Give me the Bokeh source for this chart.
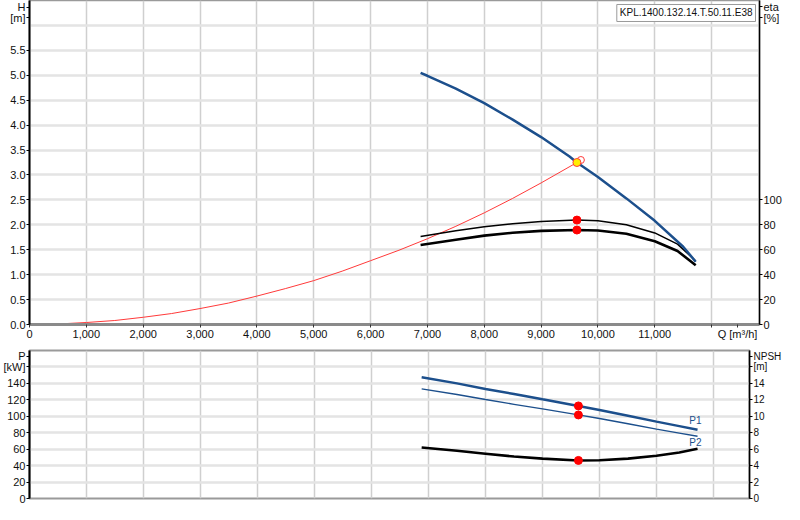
from bokeh.plotting import figure
from bokeh.models import LinearAxis, Range1d, FixedTicker, NumeralTickFormatter, Label
from bokeh.layouts import column
from bokeh.embed import file_html
from bokeh.resources import INLINE

# ---------------- data ----------------
q_head = [6880, 7000, 7500, 8000, 8500, 9000, 9500, 9630, 10000, 10500, 11000, 11500, 11720]
head = [5.05, 4.99, 4.73, 4.44, 4.11, 3.76, 3.37, 3.25, 2.96, 2.53, 2.08, 1.56, 1.26]

q_sys = [0, 500, 1000, 1500, 2000, 2500, 3000, 3500, 4000, 4500, 5000, 5500, 6000,
         6500, 7000, 7500, 8000, 8500, 9000, 9630]
h_sys = [0.0, 0.01, 0.04, 0.08, 0.145, 0.22, 0.32, 0.43, 0.57, 0.72, 0.88, 1.07, 1.28,
         1.49, 1.72, 1.97, 2.24, 2.53, 2.84, 3.25]

q_eta = [6880, 7500, 8000, 8500, 9000, 9630, 10000, 10500, 11000, 11400, 11720]
eta_thin = [70.6, 75.2, 78.5, 80.8, 82.6, 83.8, 83.2, 80.0, 73.5, 64.5, 51.0]
eta_thick = [63.8, 68.0, 71.3, 73.6, 75.1, 75.8, 75.4, 72.8, 66.8, 59.0, 47.5]

q_pow = [6880, 7500, 8000, 8500, 9000, 9630, 10000, 10500, 11000, 11400, 11720]
p1_kw = [147.4, 140.0, 133.3, 127.0, 120.6, 112.6, 107.6, 100.6, 93.5, 88.0, 83.5]
p2_kw = [133.3, 126.5, 120.4, 114.6, 108.9, 101.6, 97.3, 90.9, 84.4, 79.6, 75.7]
npsh = [6.2, 5.8, 5.45, 5.1, 4.85, 4.63, 4.65, 4.85, 5.2, 5.6, 6.04]

duty_q = [9630]
duty_h = [3.25]
duty_eta = [83.8, 75.8]
duty_p = [112.6, 101.6]
duty_npsh = [4.63]

# axis ticks and their texts
x_ticks = [0, 1000, 2000, 3000, 4000, 5000, 6000, 7000, 8000, 9000, 10000, 11000, 12000, 12456]
x_labels = {12000: "", 12456: "Q [m³/h]"}
x_grid = [0, 1000, 2000, 3000, 4000, 5000, 6000, 7000, 8000, 9000, 10000, 11000, 12000]
h_ticks = [0.0, 0.5, 1.0, 1.5, 2.0, 2.5, 3.0, 3.5, 4.0, 4.5, 5.0, 5.5, 6.15, 6.36]
h_labels = {6.15: "[m]", 6.36: "H"}
h_grid = [0.0, 0.5, 1.0, 1.5, 2.0, 2.5, 3.0, 3.5, 4.0, 4.5, 5.0, 5.5, 6.0]
eta_ticks = [0, 20, 40, 60, 80, 100, 246, 255]
eta_labels = {246: "[%]", 255: "eta"}
p_ticks = [0, 20, 40, 60, 80, 100, 120, 140, 160, 173]
p_labels = {160: "[kW]", 173: "P"}
p_grid = [0, 20, 40, 60, 80, 100, 120, 140, 160]
npsh_ticks = [0, 2, 4, 6, 8, 10, 12, 14, 16, 17.3]
npsh_labels = {16: "[m]", 17.3: "NPSH"}

model_name = "KPL.1400.132.14.T.50.11.E38"
curve_names = ["P1", "P2"]
curve_name_q = [11684, 11684]
curve_name_p = [94.4, 68.0]

# ---------------- style ----------------
FONT = "Liberation Sans"
FS = "11px"
BLUE = "#1c4f8c"
PX_PER_Q = 0.057           # pixels per m³/h, shared by both panels
XMAX_TOP = (761 - 29) / PX_PER_Q
XMAX_BOT = (749 - 29) / PX_PER_Q
HMAX = 6.5


def style_common(p):
    p.outline_line_color = "#9a9a9a"
    p.outline_line_width = 1.5
    p.background_fill_color = "white"
    p.border_fill_color = "white"
    p.xgrid.grid_line_color = "#cfcfcf"
    p.xgrid.grid_line_width = 1.5
    p.ygrid.grid_line_color = "#e4e4e4"
    p.ygrid.grid_line_width = 2.5


def style_axis(ax, width=2, fs=FS, tick=3):
    ax.axis_label = None
    ax.axis_label_standoff = 0
    ax.axis_line_color = "black"
    ax.axis_line_width = width
    ax.major_tick_line_color = "black"
    ax.major_tick_out = tick
    ax.major_tick_in = 0
    ax.minor_tick_out = 0
    ax.minor_tick_in = 0
    ax.minor_tick_line_color = None
    ax.major_label_text_font = FONT
    ax.major_label_text_font_size = fs
    ax.major_label_text_color = "#111111"
    ax.major_label_standoff = 1


# ---------------- top chart ----------------
p = figure(width=784, height=342, x_range=Range1d(0, XMAX_TOP), y_range=Range1d(0, HMAX),
           output_backend="svg", toolbar_location=None,
           min_border_left=29, min_border_right=23, min_border_top=0, min_border_bottom=17)
p.extra_y_ranges = {"eta": Range1d(0, HMAX * 40)}
style_common(p)
p.xgrid.ticker = FixedTicker(ticks=x_grid)
p.ygrid.ticker = FixedTicker(ticks=h_grid)

xa = p.xaxis[0]
style_axis(xa, width=3)
xa.ticker = FixedTicker(ticks=x_ticks)
xa.formatter = NumeralTickFormatter(format="0,0")
xa.major_label_overrides = x_labels
xa.axis_line_color = "#8a8a8a"
xa.major_tick_line_color = "#333333"
xa.major_label_standoff = 0

ya = p.yaxis[0]
style_axis(ya)
ya.ticker = FixedTicker(ticks=h_ticks)
ya.formatter = NumeralTickFormatter(format="0.0")
ya.major_label_overrides = h_labels

eta_ax = LinearAxis(y_range_name="eta")
style_axis(eta_ax, width=1.5)
eta_ax.ticker = FixedTicker(ticks=eta_ticks)
eta_ax.major_label_overrides = eta_labels
p.add_layout(eta_ax, "right")

p.line(q_sys, h_sys, line_color="#ff3a3a", line_width=1)
p.line(q_eta, eta_thin, y_range_name="eta", line_color="black", line_width=1.5)
p.line(q_eta, eta_thick, y_range_name="eta", line_color="black", line_width=2.6)
p.line(q_head, head, line_color=BLUE, line_width=2.5)
p.scatter(duty_q * 2, duty_eta, y_range_name="eta", size=8, fill_color="red", line_color="red")
p.scatter([v + 70 for v in duty_q], [h + 0.05 for h in duty_h], size=7,
          fill_color=None, line_color="#ff3a3a", line_width=1)
p.scatter(duty_q, duty_h, size=8, fill_color="#ffee00", line_color="#ff3a3a", line_width=1)

p.add_layout(Label(x=XMAX_TOP, y=HMAX - 0.08, x_offset=-4, text=model_name,
                   text_font=FONT, text_font_size="10px", text_color="#111111",
                   text_align="right", text_baseline="top",
                   border_line_color="#9a9a9a", background_fill_color="white", padding=3))

# ---------------- bottom chart ----------------
q = figure(width=784, height=162, x_range=Range1d(0, XMAX_BOT), y_range=Range1d(0, 180),
           output_backend="svg", toolbar_location=None,
           min_border_left=29, min_border_right=32, min_border_top=8, min_border_bottom=6)
q.extra_y_ranges = {"npsh": Range1d(0, 18)}
style_common(q)
q.outline_line_width = 2
q.xgrid.ticker = FixedTicker(ticks=x_grid)
q.ygrid.ticker = FixedTicker(ticks=p_grid)
q.xaxis.visible = False

qy = q.yaxis[0]
style_axis(qy)
qy.ticker = FixedTicker(ticks=p_ticks)
qy.major_label_overrides = p_labels

npsh_ax = LinearAxis(y_range_name="npsh")
style_axis(npsh_ax, width=1.5, fs="10px")
npsh_ax.ticker = FixedTicker(ticks=npsh_ticks)
npsh_ax.major_label_overrides = npsh_labels
q.add_layout(npsh_ax, "right")

q.line(q_pow, p1_kw, line_color=BLUE, line_width=2.5)
q.line(q_pow, p2_kw, line_color=BLUE, line_width=1.3)
q.line(q_pow, npsh, y_range_name="npsh", line_color="black", line_width=2.6)
q.scatter(duty_q * 2, duty_p, size=8, fill_color="red", line_color="red")
q.scatter(duty_q, duty_npsh, y_range_name="npsh", size=8, fill_color="red", line_color="red")

for name, xq, yp in zip(curve_names, curve_name_q, curve_name_p):
    q.add_layout(Label(x=xq, y=yp, text=name, text_font=FONT, text_font_size="10px",
                       text_color=BLUE, text_align="center", text_baseline="middle"))

layout = column(column(p), column(q), spacing=0)
open("out.html", "w").write(file_html(layout, INLINE))
